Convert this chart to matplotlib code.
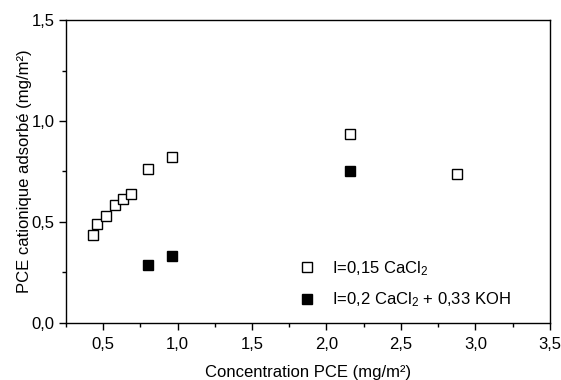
import matplotlib
matplotlib.use("Agg")
import matplotlib.pyplot as plt
from matplotlib.ticker import MultipleLocator, FuncFormatter

plt.rcParams['font.family'] = ['Liberation Sans', 'DejaVu Sans']
plt.rcParams['mathtext.fontset'] = 'custom'
plt.rcParams['mathtext.rm'] = 'Liberation Sans'
plt.rcParams['mathtext.it'] = 'Liberation Sans:italic'

# I=0,15 CaCl2 series
x_cacl2 = [0.43, 0.46, 0.52, 0.58, 0.63, 0.69, 0.80, 0.96, 2.155, 2.88]
y_cacl2 = [0.435, 0.49, 0.53, 0.585, 0.613, 0.64, 0.76, 0.823, 0.935, 0.735]

# I=0,2 CaCl2 + 0,33 KOH series
x_koh = [0.80, 0.96, 2.155]
y_koh = [0.285, 0.329, 0.752]

labels = [r"I=0,15 CaCl$\mathregular{_2}$",
          r"I=0,2 CaCl$\mathregular{_2}$ + 0,33 KOH"]

fig = plt.figure(figsize=(5.61, 3.80), dpi=100)
ax = fig.add_axes([0.1176, 0.1508, 0.8624, 0.7964])

ax.plot(x_cacl2, y_cacl2, ls='none', marker='s', ms=7.2, mfc='white',
        mec='black', mew=1.0, label=labels[0])
ax.plot(x_koh, y_koh, ls='none', marker='s', ms=7.2, mfc='black',
        mec='black', mew=1.0, label=labels[1])

ax.set_xlim(0.25, 3.5)
ax.set_ylim(0, 1.5)
ax.xaxis.set_major_locator(MultipleLocator(0.5))
ax.xaxis.set_minor_locator(MultipleLocator(0.25))
ax.yaxis.set_major_locator(MultipleLocator(0.5))
ax.yaxis.set_minor_locator(MultipleLocator(0.25))
comma = FuncFormatter(lambda v, p: ("%.1f" % v).replace('.', ','))
ax.xaxis.set_major_formatter(comma)
ax.yaxis.set_major_formatter(comma)

ax.tick_params(which='both', direction='out', labelsize=12, width=1)
ax.tick_params(axis='x', pad=5)
ax.tick_params(axis='y', pad=3)
ax.tick_params(which='major', length=5)
ax.tick_params(which='minor', length=3)
for s in ax.spines.values():
    s.set_linewidth(1.0)

ax.set_xlabel("Concentration PCE (mg/m²)", fontsize=12, labelpad=10)
ax.set_ylabel("PCE cationique adsorbé (mg/m²)", fontsize=12, labelpad=0)

ax.legend(loc='lower left', bbox_to_anchor=(0.48, 0.045), frameon=False,
          fontsize=12, handlelength=1.0, handletextpad=1.05,
          labelspacing=0.75, borderpad=0, borderaxespad=0)

fig.savefig("out.png", dpi=100)
